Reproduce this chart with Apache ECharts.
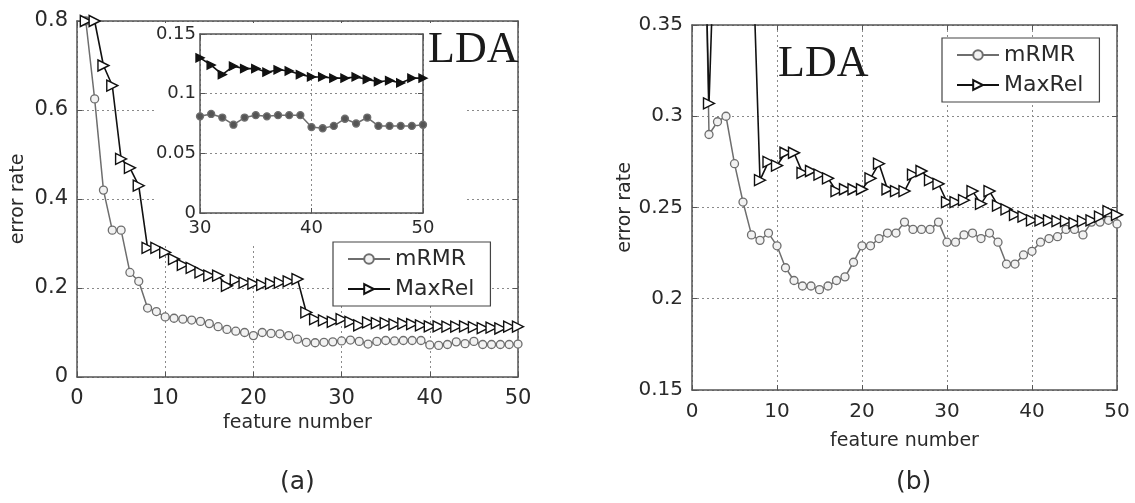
<!DOCTYPE html>
<html>
<head>
<meta charset="utf-8">
<script src="https://cdn.jsdelivr.net/npm/echarts@6/dist/echarts.min.js"></script>
<style>
  html, body { margin: 0; padding: 0; background: #fff; }
  #chart { width: 1135px; height: 503px; }
</style>
</head>
<body>
<div id="chart"></div>
<script>
// Number of selected features (x values shared by every curve)
const features = [1,2,3,4,5,6,7,8,9,10,11,12,13,14,15,16,17,18,19,20,
                  21,22,23,24,25,26,27,28,29,30,31,32,33,34,35,36,37,38,39,40,
                  41,42,43,44,45,46,47,48,49,50];

// Panel (a): LDA error rate
const mrmrA = [0.80,0.625,0.42,0.33,0.33,0.235,0.215,0.155,0.147,0.135,
               0.132,0.13,0.128,0.125,0.12,0.113,0.107,0.103,0.1,0.093,
               0.1,0.098,0.097,0.093,0.085,0.078,0.077,0.078,0.079,0.081,
               0.083,0.080,0.074,0.080,0.082,0.081,0.082,0.082,0.082,0.072,
               0.071,0.073,0.079,0.075,0.080,0.073,0.073,0.073,0.073,0.074];
const maxrelA = [0.8,0.8,0.70,0.655,0.49,0.47,0.43,0.29,0.29,0.28,
                 0.265,0.252,0.245,0.235,0.228,0.228,0.205,0.218,0.212,0.21,
                 0.207,0.21,0.212,0.215,0.22,0.145,0.13,0.127,0.124,0.130,
                 0.124,0.116,0.123,0.121,0.121,0.118,0.120,0.119,0.116,0.114,
                 0.114,0.113,0.113,0.114,0.112,0.110,0.111,0.109,0.113,0.113];

// Panel (b): LDA error rate
const mrmrB = [0.54,0.290,0.297,0.300,0.274,0.253,0.235,0.232,0.236,0.229,
               0.217,0.210,0.207,0.207,0.205,0.207,0.210,0.212,0.220,0.229,
               0.229,0.233,0.236,0.236,0.242,0.238,0.238,0.238,0.242,0.231,
               0.231,0.235,0.236,0.233,0.236,0.231,0.219,0.219,0.224,0.226,
               0.231,0.233,0.234,0.238,0.238,0.235,0.242,0.242,0.243,0.241];
const maxrelB = [0.50,0.307,0.45,0.43,0.42,0.41,0.41,0.265,0.275,0.273,
                 0.280,0.280,0.269,0.270,0.268,0.266,0.259,0.260,0.260,0.260,
                 0.266,0.274,0.260,0.259,0.259,0.268,0.270,0.265,0.263,0.253,
                 0.253,0.254,0.259,0.252,0.259,0.251,0.249,0.246,0.245,0.243,
                 0.243,0.243,0.2425,0.2425,0.2415,0.2425,0.243,0.245,0.248,0.246];

// Zoomed inset of panel (a) starts at this feature count
const insetStart = 30;

const seriesNames = ['mRMR', 'MaxRel'];
const panelLabels = ['(a)', '(b)'];
const methodLabel = 'LDA';
const xAxisTitle = 'feature number';
const yAxisTitle = 'error rate';

const pairs = (ys) => features.map((f, i) => [f, ys[i]]);
const insetPairs = (ys) => features.map((f, i) => [f, ys[i]]).filter(p => p[0] >= insetStart);

const FONT = 'DejaVu Sans';
const AXIS_COLOR = '#555';
const LABEL_COLOR = '#2a2a2a';
const GRAY = '#6e6e6e';
const BLACK = '#111';

function gridLine() {
  return { show: true, lineStyle: { color: '#8a8a8a', type: [2, 3], width: 1 } };
}
function frameAxis(kind, gridIndex, position, extra) {
  return Object.assign({
    type: 'value', gridIndex, position,
    axisLine: { show: true, onZero: false, lineStyle: { color: AXIS_COLOR, width: 1.5 } },
    axisTick: { show: true, inside: true, length: 5, lineStyle: { color: AXIS_COLOR } },
    axisLabel: { show: false },
    splitLine: { show: false }
  }, extra);
}

const mrmrStyle = (size, fill) => ({
  symbol: 'circle', symbolSize: size, showAllSymbol: true,
  lineStyle: { color: GRAY, width: 1.5 },
  itemStyle: { color: fill, borderColor: GRAY, borderWidth: 1.3 }
});
const maxrelStyle = (size, fill) => ({
  symbol: 'triangle', symbolRotate: -90, symbolSize: size, showAllSymbol: true,
  lineStyle: { color: BLACK, width: 1.6 },
  itemStyle: { color: fill, borderColor: BLACK, borderWidth: 1.4 }
});

const chart = echarts.init(document.getElementById('chart'), null, { renderer: 'canvas' });

const option = {
  animation: false,
  backgroundColor: '#fff',
  textStyle: { fontFamily: FONT },
  grid: [
    { left: 77, top: 21, width: 441, height: 356 },   // panel (a)
    { left: 200, top: 34, width: 223, height: 179 },  // inset of (a)
    { left: 692, top: 25, width: 425, height: 365 }   // panel (b)
  ],
  xAxis: [
    frameAxis('x', 0, 'bottom', {
      min: 0, max: 50, interval: 10, z: 0,
      axisLabel: { show: true, fontSize: 21, color: LABEL_COLOR, margin: 11 },
      splitLine: gridLine(),
      name: xAxisTitle, nameLocation: 'middle', nameGap: 36,
      nameTextStyle: { fontSize: 19, color: LABEL_COLOR }
    }),
    frameAxis('x', 0, 'top', { min: 0, max: 50, interval: 10, z: 0 }),
    frameAxis('x', 1, 'bottom', {
      min: 30, max: 50, interval: 10, z: 3,
      axisLabel: { show: true, fontSize: 18, color: LABEL_COLOR, margin: 6 },
      splitLine: gridLine()
    }),
    frameAxis('x', 1, 'top', { min: 30, max: 50, interval: 10, z: 3 }),
    frameAxis('x', 2, 'bottom', {
      min: 0, max: 50, interval: 10,
      axisLabel: { show: true, fontSize: 20, color: LABEL_COLOR, margin: 12 },
      splitLine: gridLine(),
      name: xAxisTitle, nameLocation: 'middle', nameGap: 42,
      nameTextStyle: { fontSize: 19, color: LABEL_COLOR }
    }),
    frameAxis('x', 2, 'top', { min: 0, max: 50, interval: 10 })
  ],
  yAxis: [
    frameAxis('y', 0, 'left', {
      min: 0, max: 0.8, interval: 0.2, z: 0,
      axisLabel: { show: true, fontSize: 21, color: LABEL_COLOR, margin: 9 },
      splitLine: gridLine(),
      name: yAxisTitle, nameLocation: 'middle', nameGap: 49,
      nameTextStyle: { fontSize: 19, color: LABEL_COLOR }
    }),
    frameAxis('y', 0, 'right', { min: 0, max: 0.8, interval: 0.2, z: 0 }),
    frameAxis('y', 1, 'left', {
      min: 0, max: 0.15, interval: 0.05, z: 3,
      axisLabel: { show: true, fontSize: 18, color: LABEL_COLOR, margin: 4 },
      splitLine: gridLine()
    }),
    frameAxis('y', 1, 'right', { min: 0, max: 0.15, interval: 0.05, z: 3 }),
    frameAxis('y', 2, 'left', {
      min: 0.15, max: 0.35, interval: 0.05,
      axisLabel: { show: true, fontSize: 20, color: LABEL_COLOR, margin: 9 },
      splitLine: gridLine(),
      name: yAxisTitle, nameLocation: 'middle', nameGap: 57,
      nameTextStyle: { fontSize: 19, color: LABEL_COLOR }
    }),
    frameAxis('y', 2, 'right', { min: 0.15, max: 0.35, interval: 0.05 })
  ],
  legend: [
    {
      left: 333, top: 242, orient: 'vertical', data: seriesNames,
      backgroundColor: '#fff', borderColor: '#444', borderWidth: 1.2,
      padding: [6, 16, 6, 14], itemWidth: 42, itemHeight: 12, itemGap: 8, itemTextGap: 12,
      textStyle: { fontSize: 22, color: LABEL_COLOR }, selectedMode: false, z: 6
    },
    {
      left: 942, top: 38, orient: 'vertical', data: seriesNames,
      backgroundColor: '#fff', borderColor: '#444', borderWidth: 1.2,
      padding: [6, 16, 6, 14], itemWidth: 42, itemHeight: 12, itemGap: 8, itemTextGap: 12,
      textStyle: { fontSize: 22, color: LABEL_COLOR }, selectedMode: false, z: 6
    }
  ],
  graphic: [
    // white backing behind the inset so the outer grid lines stop around it
    { type: 'rect', z: 1, silent: true,
      shape: { x: 155, y: 23, width: 310, height: 221 }, style: { fill: '#fff' } },
    { type: 'text', z: 5, left: 428, top: 28,
      style: { text: methodLabel, font: '44px "Liberation Serif"', fill: '#1a1a1a' } },
    { type: 'text', z: 5, left: 778, top: 42,
      style: { text: methodLabel, font: '44px "Liberation Serif"', fill: '#1a1a1a' } },
    { type: 'text', z: 5, left: 280, top: 470,
      style: { text: panelLabels[0], font: '25px "DejaVu Sans"', fill: LABEL_COLOR } },
    { type: 'text', z: 5, left: 896, top: 470,
      style: { text: panelLabels[1], font: '25px "DejaVu Sans"', fill: LABEL_COLOR } }
  ],
  series: [
    Object.assign({ name: seriesNames[0], type: 'line', xAxisIndex: 0, yAxisIndex: 0, z: 2,
      data: pairs(mrmrA) }, mrmrStyle(8, '#f2f2f2')),
    Object.assign({ name: seriesNames[1], type: 'line', xAxisIndex: 0, yAxisIndex: 0, z: 2,
      data: pairs(maxrelA) }, maxrelStyle(11, '#fff')),
    Object.assign({ name: seriesNames[0], type: 'line', xAxisIndex: 2, yAxisIndex: 2, z: 4,
      data: insetPairs(mrmrA) }, mrmrStyle(7, '#555')),
    Object.assign({ name: seriesNames[1], type: 'line', xAxisIndex: 2, yAxisIndex: 2, z: 4,
      data: insetPairs(maxrelA) }, maxrelStyle(8, BLACK)),
    Object.assign({ name: seriesNames[0], type: 'line', xAxisIndex: 4, yAxisIndex: 4, z: 2,
      data: pairs(mrmrB) }, mrmrStyle(8, '#f2f2f2')),
    Object.assign({ name: seriesNames[1], type: 'line', xAxisIndex: 4, yAxisIndex: 4, z: 2,
      data: pairs(maxrelB) }, maxrelStyle(11, '#fff'))
  ]
};

chart.setOption(option);
</script>
</body>
</html>
